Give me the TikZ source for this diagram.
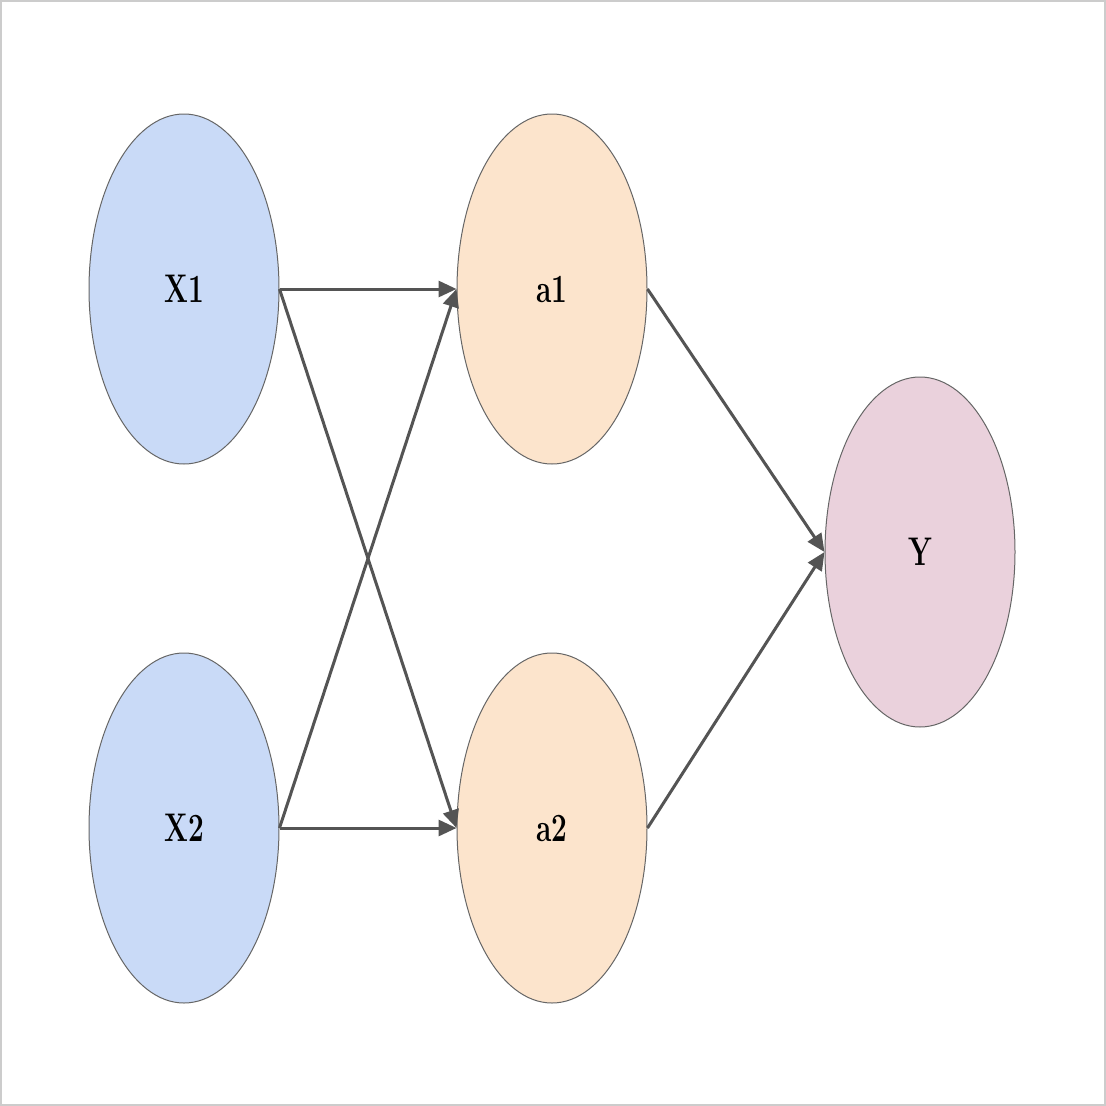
\documentclass[tikz,border=0pt]{standalone}
\usetikzlibrary{shapes.geometric,arrows.meta}
\begin{document}
\begin{tikzpicture}[x=1pt,y=-1pt,
  nd/.style={ellipse,draw=black!60,line width=1pt,minimum width=190pt,minimum height=350pt,inner sep=0pt,font=\fontsize{40}{40}\selectfont\bfseries},
  ar/.style={draw=black!67,line width=3pt,-{Triangle[length=18pt,width=16pt]}}]
\draw[black!20,line width=2pt,fill=white] (1,1) rectangle (1105,1105);
\useasboundingbox (0,0) rectangle (1106,1106);
\definecolor{cb}{HTML}{C9DAF7}\definecolor{co}{HTML}{FCE4CC}\definecolor{cp}{HTML}{EAD1DC}
\node[nd,fill=cb] (x1) at (184,289) {\scalebox{0.7}[1]{X1}};
\node[nd,fill=cb] (x2) at (184,828) {\scalebox{0.7}[1]{X2}};
\node[nd,fill=co] (a1) at (552,289) {\scalebox{0.7}[1]{a1}};
\node[nd,fill=co] (a2) at (552,828) {\scalebox{0.7}[1]{a2}};
\node[nd,fill=cp] (y) at (920,552) {\scalebox{0.7}[1]{Y}};
\draw[ar] (x1.east) -- (a1.west);
\draw[ar] (x1.east) -- (a2.west);
\draw[ar] (x2.east) -- (a1.west);
\draw[ar] (x2.east) -- (a2.west);
\draw[ar] (a1.east) -- (y.west);
\draw[ar] (a2.east) -- (y.west);
\end{tikzpicture}
\end{document}
